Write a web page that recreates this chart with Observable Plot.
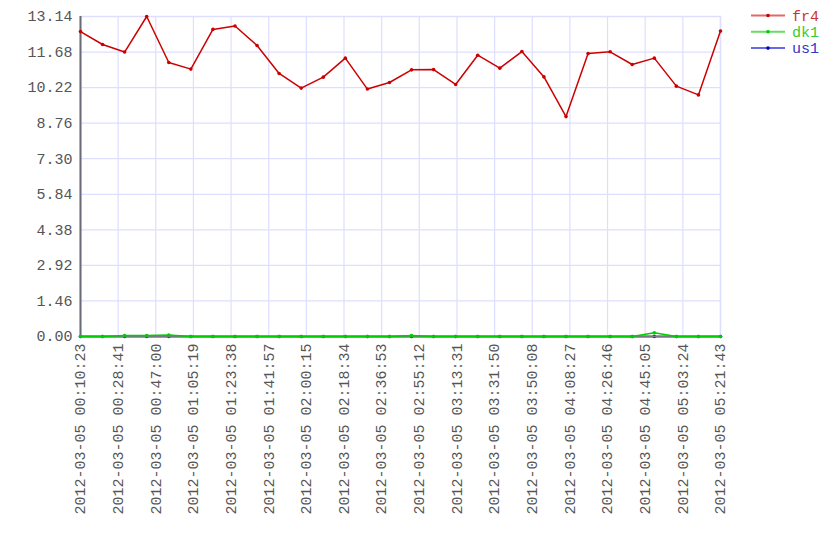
<!DOCTYPE html>
<html>
<head>
<meta charset="utf-8">
<script src="https://cdn.jsdelivr.net/npm/d3@7"></script>
<script src="https://cdn.jsdelivr.net/npm/@observablehq/plot@0.6"></script>
<style>
  html, body { margin: 0; padding: 0; background: #fff; }
  #chart { position: relative; width: 840px; height: 560px; }
</style>
</head>
<body>
<div id="chart"></div>
<script>
// ---- data ----
const times = [
  "00:10:23","00:21:07","00:31:51","00:42:35","00:53:20","01:04:04","01:14:48","01:25:32",
  "01:36:16","01:47:00","01:57:44","02:08:29","02:19:13","02:29:57","02:40:41","02:51:25",
  "03:02:09","03:12:53","03:23:37","03:34:22","03:45:06","03:55:50","04:06:34","04:17:18",
  "04:28:02","04:38:46","04:49:31","05:00:15","05:10:59","05:21:43"
];
const fr4 = [12.52, 11.99, 11.68, 13.14, 11.25, 10.98, 12.61, 12.75, 11.95, 10.80,
             10.20, 10.65, 11.43, 10.16, 10.43, 10.95, 10.96, 10.35, 11.55, 11.02,
             11.70, 10.66, 9.03, 11.62, 11.69, 11.17, 11.43, 10.28, 9.92, 12.54];
const dk1 = [0, 0, 0.04, 0.04, 0.06, 0, 0, 0, 0, 0,
             0, 0, 0, 0, 0, 0.04, 0, 0, 0, 0,
             0, 0, 0, 0, 0, 0, 0.15, 0, 0, 0];
const us1 = [0, 0, 0, 0, 0, 0, 0, 0, 0, 0,
             0, 0, 0, 0, 0, 0, 0, 0, 0, 0,
             0, 0, 0, 0, 0, 0, 0, 0, 0, 0];
const seriesNames = ["fr4", "dk1", "us1"];
const seriesColors = ["#cc0000", "#00cc00", "#0000cc"];
const legendLineColors = ["#e06a6a", "#66dd66", "#6a6ae0"];
const legendTextColors = ["#cc3333", "#33cc33", "#3333cc"];
const xTickLabels = [
  "00:10:23","00:28:41","00:47:00","01:05:19","01:23:38","01:41:57","02:00:15","02:18:34",
  "02:36:53","02:55:12","03:13:31","03:31:50","03:50:08","04:08:27","04:26:46","04:45:05",
  "05:03:24","05:21:43"
];
const yTicks = [0, 1.46, 2.92, 4.38, 5.84, 7.30, 8.76, 10.22, 11.68, 13.14];
const day = "2012-03-05";

// ---- build ----
const parse = t => new Date(`${day}T${t}Z`);
const dates = times.map(parse);
const xTicks = xTickLabels.map(parse);
const valueSets = {fr4, dk1, us1};
const rows = s => dates.map((d, i) => ({date: d, value: valueSets[s][i], series: s}));
const colorOf = s => seriesColors[seriesNames.indexOf(s)];
const grid = "#dedeff";
const fmt = d3.utcFormat("%Y-%m-%d %H:%M:%S");
const seriesMarks = s => {
  const data = rows(s);
  return [
    Plot.line(data, {x: "date", y: "value", stroke: colorOf(s), strokeWidth: 1.5}),
    Plot.dot(data, {x: "date", y: "value", r: 1.8, fill: colorOf(s)})
  ];
};

const marks = [
  Plot.gridY(yTicks, {stroke: grid, strokeOpacity: 1, strokeWidth: 1.2}),
  Plot.gridX(xTicks, {stroke: grid, strokeOpacity: 1, strokeWidth: 1.2}),
  Plot.frame({stroke: grid, strokeWidth: 1.5}),
  Plot.axisY({ticks: yTicks, tickSize: 0, tickPadding: 8, tickFormat: d => d.toFixed(2), label: null}),
  Plot.axisX({ticks: xTicks, tickSize: 0, tickPadding: 7, tickRotate: -90, tickFormat: fmt, label: null}),
  ...seriesMarks("us1"),
  Plot.ruleY([0], {stroke: "#777788", strokeWidth: 2}),
  Plot.ruleX([dates[0]], {stroke: "#6a6a78", strokeWidth: 2}),
  ...seriesMarks("dk1"),
  ...seriesMarks("fr4")
];

const chart = Plot.plot({
  width: 840,
  height: 560,
  marginLeft: 80,
  marginRight: 120,
  marginTop: 16,
  marginBottom: 224,
  style: {fontFamily: "'Liberation Mono', monospace", fontSize: "15px", color: "#555", background: "#fff"},
  x: {type: "utc", domain: [dates[0], dates[dates.length - 1]]},
  y: {domain: [0, 13.14]},
  marks
});
document.getElementById("chart").appendChild(chart);

// ---- legend ----
const svg = d3.select(chart);
const lg = svg.append("g")
  .attr("font-family", "'Liberation Mono', monospace")
  .attr("font-size", "15px")
  .attr("text-anchor", "start");
seriesNames.forEach((s, i) => {
  const y = 15.5 + i * 16.3;
  lg.append("line").attr("x1", 751).attr("x2", 785).attr("y1", y).attr("y2", y)
    .attr("stroke", legendLineColors[i]).attr("stroke-width", 2);
  lg.append("circle").attr("cx", 768).attr("cy", y).attr("r", 1.8).attr("fill", seriesColors[i]);
  lg.append("text").attr("x", 792).attr("y", y).attr("dy", "0.35em")
    .attr("fill", legendTextColors[i]).text(s);
});
</script>
</body>
</html>
